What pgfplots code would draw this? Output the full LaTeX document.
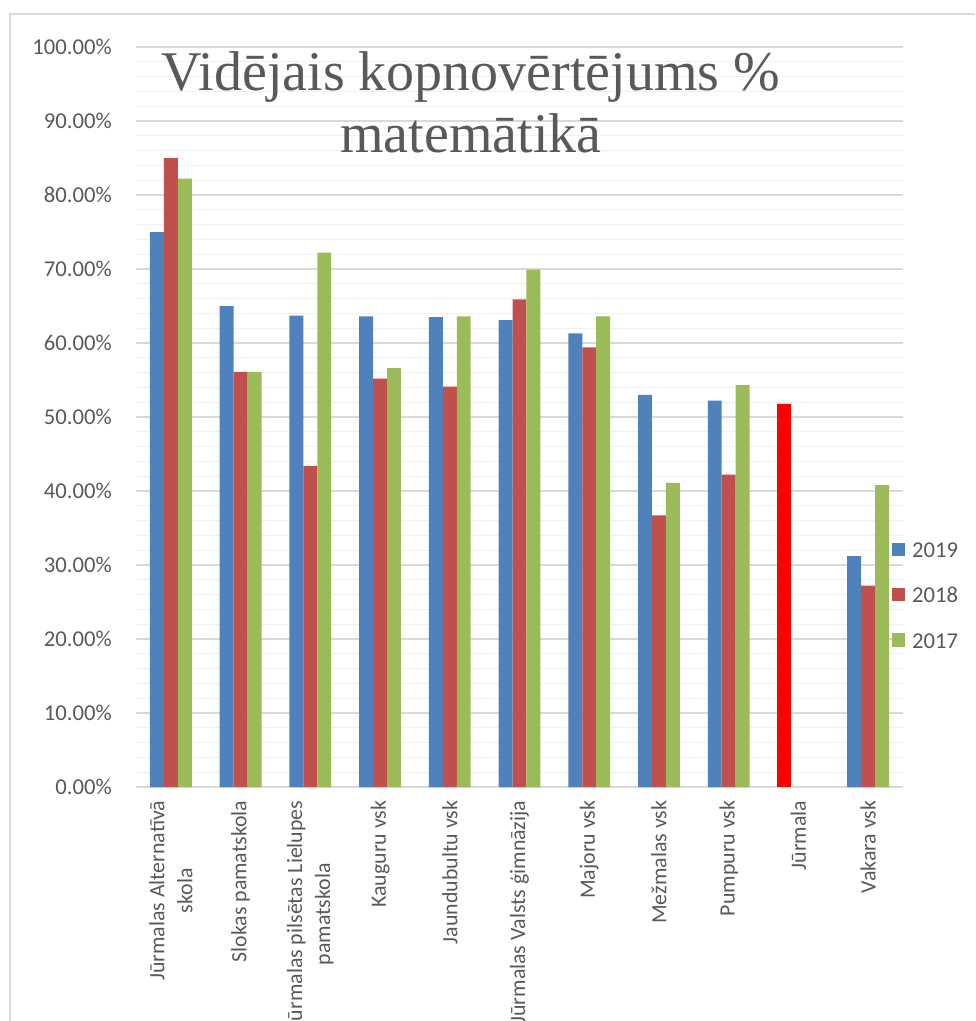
\documentclass[border=0pt]{standalone}
\usepackage{fontspec}
\setmainfont{Carlito}
\newfontfamily\titlefont{Liberation Serif}
\usepackage{pgfplots}
\pgfplotsset{compat=1.18}
\definecolor{cBlue}{HTML}{4F81BD}
\definecolor{cRed}{HTML}{C0504D}
\definecolor{cGreen}{HTML}{9BBB59}
\definecolor{cTxt}{HTML}{595959}
\definecolor{cMaj}{HTML}{D9D9D9}
\definecolor{cMin}{HTML}{F0F0F0}

\begin{document}
\begin{tikzpicture}
\path[use as bounding box] (0pt,0pt) rectangle (731.25pt,-765.75pt);
\draw[cMaj, line width=1pt] (731.25pt,-10.5pt) -- (7.5pt,-10.5pt) -- (7.5pt,-765.75pt);
\begin{axis}[
  at={(102pt,-590.25pt)}, anchor=south west,
  scale only axis, width=575.25pt, height=555pt,
  ybar, bar width=0.2,
  xmin=-0.5, xmax=10.5, ymin=0, ymax=100,
  xtick={0,...,10},
  xticklabels={{Jūrmalas Alternatīvā\\skola}, Slokas pamatskola, {Jūrmalas pilsētas Lielupes\\pamatskola}, Kauguru vsk, Jaundubultu vsk, Jūrmalas Valsts ģimnāzija, Majoru vsk, Mežmalas vsk, Pumpuru vsk, Jūrmala, Vakara vsk},
  ytick={0,10,...,100},
  yticklabels={0.00\%,10.00\%,20.00\%,30.00\%,40.00\%,50.00\%,60.00\%,70.00\%,80.00\%,90.00\%,100.00\%},
  minor y tick num=4,
  ymajorgrids, yminorgrids,
  major grid style={cMaj, line width=1pt},
  minor grid style={cMin, line width=1pt},
  axis x line*=bottom, axis y line*=left,
  y axis line style={draw=none},
  x axis line style={cMaj, line width=1pt, -},
  major tick length=0pt, minor tick length=0pt,
  tick style={draw=none},
  yticklabel style={font=\fontsize{17}{20}\selectfont, text=cTxt, inner sep=0pt, anchor=east, xshift=-18pt},
  xticklabel style={font=\fontsize{16.4}{21}\selectfont, text=cTxt, align=center, inner sep=0pt, yshift=-10pt, rotate=90, anchor=east},
  legend style={at={(0.9857,0.2588)}, anchor=west, draw=none, fill=none, inner sep=0pt, outer sep=0pt,
    row sep=23pt, font=\fontsize{17}{20}\selectfont, text=cTxt,
    nodes={inner sep=0pt, text height=11pt, text depth=0pt},
    /tikz/every odd column/.append style={column sep=5pt}},
  legend cell align=left,
  legend image code/.code={\fill[#1] (0pt,-4.5pt) rectangle (10pt,5.5pt);},
]
% 2019
\addplot[fill=cBlue, draw=none, bar shift=-0.2] coordinates {
  (0,75.0) (1,65.0) (2,63.7) (3,63.6) (4,63.5) (5,63.1) (6,61.3) (7,53.0) (8,52.2) (10,31.2)};
\addlegendentry{2019}
% 2018
\addplot[fill=cRed, draw=none, bar shift=0] coordinates {
  (0,85.0) (1,56.1) (2,43.4) (3,55.2) (4,54.1) (5,65.9) (6,59.4) (7,36.7) (8,42.2) (10,27.2)};
\addlegendentry{2018}
% 2017
\addplot[fill=cGreen, draw=none, bar shift=0.2] coordinates {
  (0,82.2) (1,56.1) (2,72.2) (3,56.6) (4,63.6) (5,69.9) (6,63.6) (7,41.1) (8,54.3) (10,40.8)};
\addlegendentry{2017}
% Jurmala total, highlighted
\addplot[fill=red, draw=none, bar shift=-0.2, forget plot] coordinates {(9,51.8)};
\end{axis}
\node[anchor=base, inner sep=0pt, text=cTxt, font=\titlefont\fontsize{42}{50}\selectfont] at (353.25pt,-67.5pt) {Vidējais kopnovērtējums \%};
\node[anchor=base, inner sep=0pt, text=cTxt, font=\titlefont\fontsize{42}{50}\selectfont] at (353.25pt,-114pt) {matemātikā};
\end{tikzpicture}
\end{document}
